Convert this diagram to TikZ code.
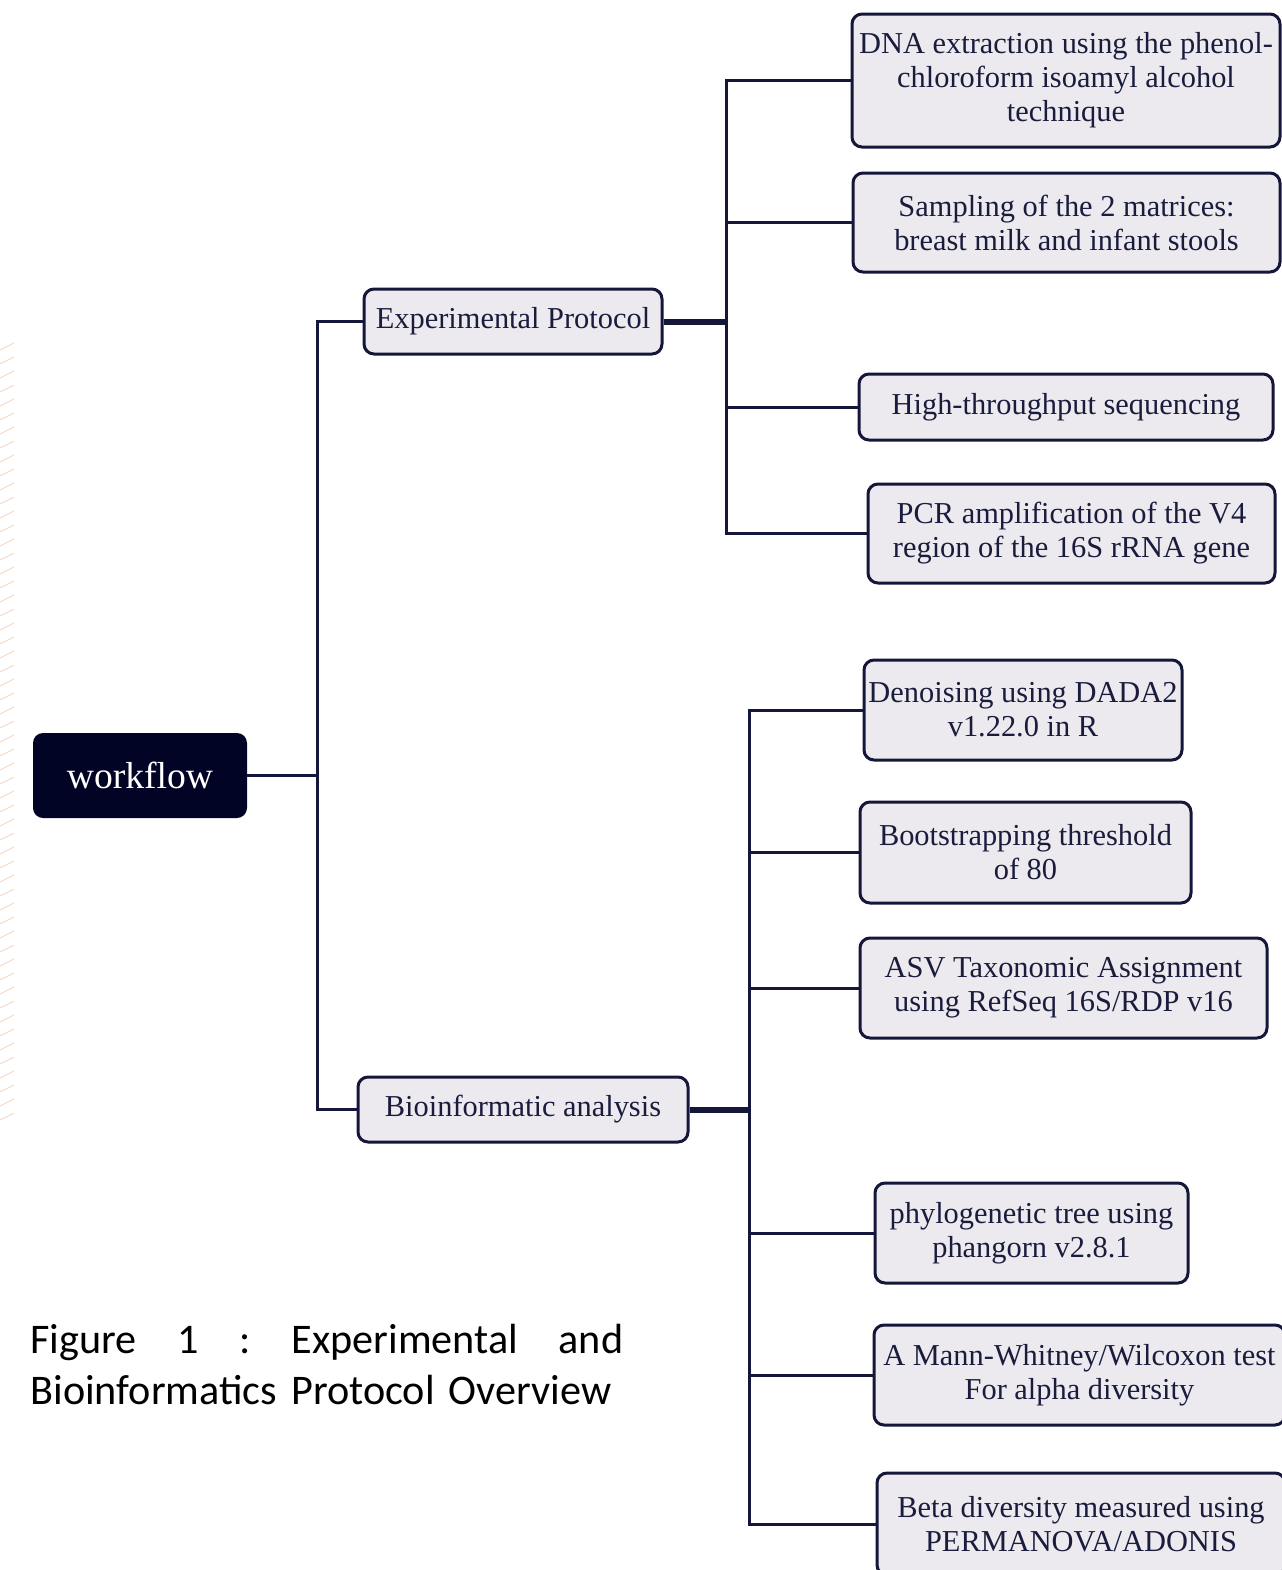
\documentclass[tikz,border=0pt]{standalone}
\usepackage{fontspec}
\setmainfont{Liberation Serif}
\newfontfamily\legendafont{Carlito}
\definecolor{marinho}{HTML}{020426}
\definecolor{borda}{HTML}{15173A}
\definecolor{cinza}{HTML}{ECEAEE}
\definecolor{tinta}{HTML}{1A1C3D}
\definecolor{laranja}{HTML}{F0B48F}

\def\xtronco{317}
\def\xexp{726}
\def\xbio{749}

\tikzset{
    caixa/.style={draw=borda, fill=cinza, text=tinta, line width=1.5pt, rounded corners=5pt,
        align=center, inner sep=2pt, font=\fontsize{15.2}{17}\selectfont},
    raiz/.style={fill=marinho, text=white, rounded corners=5pt, font=\fontsize{18.8}{22}\selectfont},
    liga/.style={draw=borda, line width=1.5pt},
    ligagrossa/.style={draw=borda, line width=3pt}
}

\begin{document}
\begin{tikzpicture}[x=0.5pt, y=-0.5pt]
    \useasboundingbox (0,0) rectangle (1281,1570);

%fundo
    \foreach \y in {350,364,...,1130}
        \draw [laranja, line width=0.5pt, opacity=0.5] (0,\y) -- (14,\y-7);

%workflow
    \node [raiz, minimum width=107pt, minimum height=42.5pt] (workflow) at (140,775.5) {workflow};

%ramos
    \node [caixa, minimum width=149pt, minimum height=32.5pt] (exp) at (513,321.5) {Experimental Protocol};
    \node [caixa, minimum width=165pt, minimum height=32.5pt] (bio) at (523,1109.5) {Bioinformatic analysis};

%Experimental Protocol
    \node [caixa, minimum width=214pt, minimum height=66.5pt] (dna) at (1066,80.5)
        {DNA extraction using the phenol-\\chloroform isoamyl alcohol\\technique};
    \node [caixa, minimum width=213.5pt, minimum height=49.5pt] (amostra) at (1066.5,222.5)
        {Sampling of the 2 matrices:\\breast milk and infant stools};
    \node [caixa, minimum width=207pt, minimum height=33pt] (seq) at (1066,407)
        {High-throughput sequencing};
    \node [caixa, minimum width=203.5pt, minimum height=49.5pt] (pcr) at (1071.5,533.5)
        {PCR amplification of the V4\\region of the 16S rRNA gene};

%Bioinformatic analysis
    \node [caixa, minimum width=159pt, minimum height=50pt] (dada) at (1023,710)
        {Denoising using DADA2\\v1.22.0 in R};
    \node [caixa, minimum width=165.5pt, minimum height=50.5pt] (boot) at (1025.5,852.5)
        {Bootstrapping threshold\\of 80};
    \node [caixa, minimum width=203.5pt, minimum height=50pt] (asv) at (1063.5,988)
        {ASV Taxonomic Assignment\\using RefSeq 16S/RDP v16};
    \node [caixa, minimum width=156.5pt, minimum height=50pt] (filo) at (1031.5,1233)
        {phylogenetic tree using\\phangorn v2.8.1};
    \node [caixa, minimum width=205.5pt, minimum height=50pt] (mann) at (1079.5,1375)
        {A Mann-Whitney/Wilcoxon test\\For alpha diversity};
    \node [caixa, minimum width=204pt, minimum height=51pt] (beta) at (1081,1524)
        {Beta diversity measured using\\PERMANOVA/ADONIS};

%ligacoes
    \coordinate (tr) at (\xtronco,0);
    \coordinate (re) at (\xexp,0);
    \coordinate (rb) at (\xbio,0);

    \draw [liga] (workflow.east) -- (workflow.east -| tr);
    \draw [liga] (exp.west) -| (tr |- bio.west) -- (bio.west);

    \draw [ligagrossa] (exp.east) -- (exp.east -| re);
    \draw [liga] (dna.west) -| (re |- pcr.west) -- (pcr.west);
    \foreach \n in {amostra,seq}
        \draw [liga] (\n.west) -- (\n.west -| re);

    \draw [ligagrossa] (bio.east) -- (bio.east -| rb);
    \draw [liga] (dada.west) -| (rb |- beta.west) -- (beta.west);
    \foreach \n in {boot,asv,filo,mann}
        \draw [liga] (\n.west) -- (\n.west -| rb);

%legenda
    \node [anchor=north west, inner sep=0pt, text width=296.5pt, align=left,
        font=\legendafont\fontsize{21.1}{25.5}\selectfont] (legenda) at (30,1324)
        {\hbox to 296.5pt{Figure\hfill 1\hfill :\hfill Experimental\hfill and}\\Bioinformatics Protocol Overview};

\end{tikzpicture}
\end{document}
